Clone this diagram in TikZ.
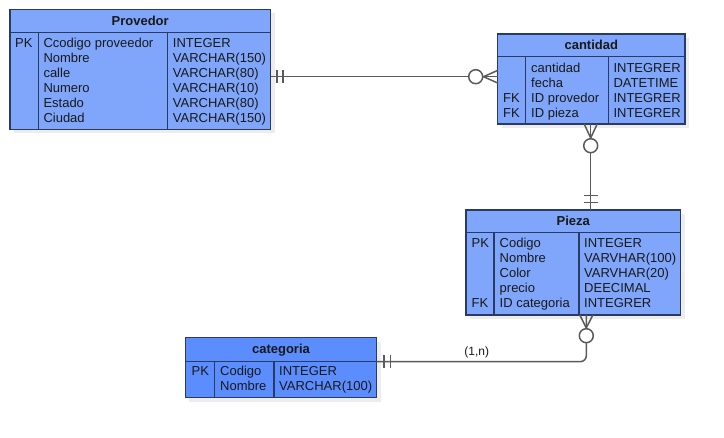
\documentclass[tikz,border=0pt]{standalone}
\usepackage{fontspec}
\setmainfont{Liberation Sans}
\usetikzlibrary{calc,shadows}

\definecolor{entfill}{HTML}{7FA6FB}
\definecolor{entdark}{HTML}{5B8DFF}
\definecolor{entline}{HTML}{2A3B63}
\definecolor{relline}{HTML}{5A5A5A}

\tikzset{
  entity/.style={draw=entline, line width=1.2pt, fill=entfill, anchor=north west,
    inner sep=0pt, outer sep=0pt,
    drop shadow={fill=black, opacity=.07, shadow xshift=4pt, shadow yshift=-4pt}},
  divline/.style={draw=entline, line width=1.2pt},
  title/.style={font=\fontsize{13}{15}\selectfont\bfseries, inner sep=0pt, anchor=base, text=black!90},
  cell/.style={font=\fontsize{13}{15}\selectfont, inner sep=0pt, anchor=base west, text=black!90},
  rel/.style={draw=relline, line width=1.5pt},
  ring/.style={circle, draw=relline, line width=1.5pt, fill=white, minimum size=14pt, inner sep=0pt},
}

\begin{document}
\begin{tikzpicture}[x=1pt, y=-1pt]
    \useasboundingbox (0,0) rectangle (724,438);

    % Provedor
    \node[entity, minimum width=260.5pt, minimum height=120.2pt] (prov) at (10,9.3) {};
    \draw[divline] (10,32.7) -- (270.5,32.7);
    \draw[divline] (38.3,32.7) -- (38.3,129.5);
    \draw[divline] (167.7,32.7) -- (167.7,129.5);
    \node[title] (provT) at (140.2,25.7) {Provedor};
    \foreach \k/\nm/\ty [count=\i] in {PK/Ccodigo proveedor/INTEGER, /Nombre/VARCHAR(150),
        /calle/VARCHAR(80), /Numero/VARCHAR(10), /Estado/VARCHAR(80), /Ciudad/VARCHAR(150)} {
        \node[cell] (provK\i) at (15,{33+15*\i}) {\k};
        \node[cell] (provN\i) at (43.3,{33+15*\i}) {\nm};
        \node[cell] (provY\i) at (172.7,{33+15*\i}) {\ty};
    }

    % cantidad
    \node[entity, minimum width=187.3pt, minimum height=90pt] (cant) at (497.7,34) {};
    \draw[divline] (497.7,56.7) -- (685,56.7);
    \draw[divline] (525.7,56.7) -- (525.7,124);
    \draw[divline] (608.3,56.7) -- (608.3,124);
    \node[title] (cantT) at (591.3,50) {cantidad};
    \foreach \k/\nm/\ty [count=\i] in {/cantidad/INTEGRER, /fecha/DATETIME,
        FK/ID provedor/INTEGRER, FK/ID pieza/INTEGRER} {
        \node[cell] (cantK\i) at (503,{57.4+15*\i}) {\k};
        \node[cell] (cantN\i) at (531,{57.4+15*\i}) {\nm};
        \node[cell] (cantY\i) at (613.3,{57.4+15*\i}) {\ty};
    }

    % Pieza
    \node[entity, minimum width=214.7pt, minimum height=105pt] (pieza) at (466,210) {};
    \draw[divline] (466,232.7) -- (680.7,232.7);
    \draw[divline] (494,232.7) -- (494,315);
    \draw[divline] (579,232.7) -- (579,315);
    \node[title] (piezaT) at (573.3,226) {Pieza};
    \foreach \k/\nm/\ty [count=\i] in {PK/Codigo/INTEGER, /Nombre/VARVHAR(100),
        /Color/VARVHAR(20), /precio/DEECIMAL, FK/ID categoria/INTEGRER} {
        \node[cell] (piezaK\i) at (471.5,{233+15*\i}) {\k};
        \node[cell] (piezaN\i) at (499.5,{233+15*\i}) {\nm};
        \node[cell] (piezaY\i) at (584,{233+15*\i}) {\ty};
    }

    % categoria
    \node[entity, fill=entdark, minimum width=191.4pt, minimum height=60pt] (cat) at (185.3,337.7) {};
    \draw[divline] (185.3,361.5) -- (376.7,361.5);
    \draw[divline] (214.3,361.5) -- (214.3,397.7);
    \draw[divline] (274,361.5) -- (274,397.7);
    \node[title] (catT) at (281,354) {categoria};
    \foreach \k/\nm/\ty [count=\i] in {PK/Codigo/INTEGER, /Nombre/VARCHAR(100)} {
        \node[cell] (catK\i) at (191.5,{360.7+15*\i}) {\k};
        \node[cell] (catN\i) at (220,{360.7+15*\i}) {\nm};
        \node[cell] (catY\i) at (279,{360.7+15*\i}) {\ty};
    }

    % Provedor -- cantidad
    \coordinate (provR) at (270.5,76.7);
    \coordinate (cantL) at (497.7,76.7);
    \draw[rel] (provR) -- (cantL);
    \draw[rel] ($(provR)+(6.5,-6.5)$) -- ($(provR)+(6.5,6.5)$);
    \draw[rel] ($(provR)+(12.5,-6.5)$) -- ($(provR)+(12.5,6.5)$);
    \node[ring] (pcO) at (475.7,76.7) {};
    \draw[rel] (pcO.east) -- ($(cantL)+(0,-6.3)$);
    \draw[rel] (pcO.east) -- ($(cantL)+(0,6.3)$);

    % cantidad -- Pieza
    \coordinate (cantB) at (590.7,124);
    \coordinate (piezaT0) at (590.7,210);
    \draw[rel] (cantB) -- (piezaT0);
    \node[ring] (cpO) at (590.7,145.7) {};
    \draw[rel] (cpO.north) -- ($(cantB)+(-6.5,0)$);
    \draw[rel] (cpO.north) -- ($(cantB)+(6.5,0)$);
    \draw[rel] ($(piezaT0)+(-7,-14.3)$) -- ($(piezaT0)+(7,-14.3)$);
    \draw[rel] ($(piezaT0)+(-7,-7.3)$) -- ($(piezaT0)+(7,-7.3)$);

    % Pieza -- categoria
    \coordinate (piezaB) at (586.3,315);
    \coordinate (bend) at (586.3,361.7);
    \coordinate (catR) at (376.7,361.7);
    \draw[rel, rounded corners=6pt] (piezaB) -- (bend) -- (catR);
    \node[ring] (pcatO) at (586.3,335.7) {};
    \draw[rel] (pcatO.north) -- ($(piezaB)+(-6.5,0)$);
    \draw[rel] (pcatO.north) -- ($(piezaB)+(6.5,0)$);
    \draw[rel] ($(catR)+(7.3,-6.5)$) -- ($(catR)+(7.3,6.5)$);
    \draw[rel] ($(catR)+(14,-6.5)$) -- ($(catR)+(14,6.5)$);
    \node[font=\fontsize{12}{14}\selectfont, inner sep=0pt, text=black!90] (card) at (476.7,352.3) {(1,n)};
\end{tikzpicture}
\end{document}
